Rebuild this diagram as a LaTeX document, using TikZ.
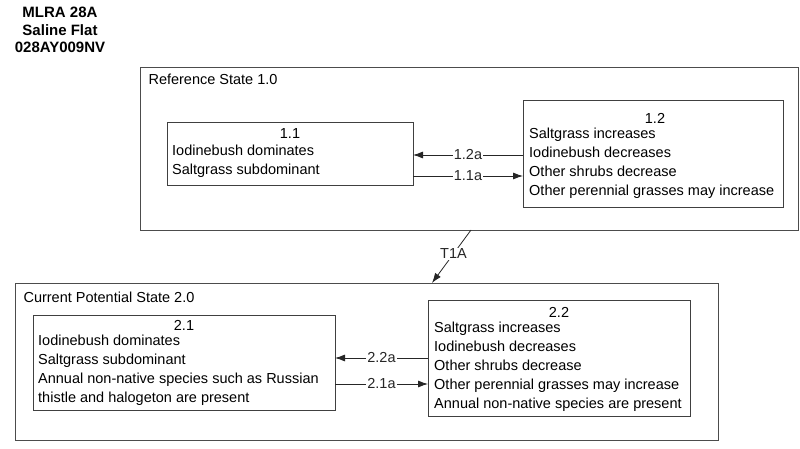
\documentclass[tikz,border=0pt]{standalone}
\usepackage{fontspec}
\setmainfont{Liberation Sans}
\usetikzlibrary{arrows.meta}
\begin{document}
\begin{tikzpicture}[x=1pt,y=-1pt,font=\fontsize{14.5}{19}\selectfont,
  statebox/.style={draw=black!70, line width=1pt},
  phasebox/.style={draw=black!75, line width=1pt},
  pathway/.style={black!85, line width=0.8pt, -{Latex[length=10pt,width=7pt]}},
  lbl/.style={fill=white, inner sep=1pt}]
\useasboundingbox (0,0) rectangle (800,449);
% title
\node[font=\fontsize{15}{17.5}\selectfont\bfseries, align=center] (title) at (60,30) {MLRA 28A\\Saline Flat\\028AY009NV};
% reference state
\draw[statebox] (140,68) rectangle (798,230);
\node[anchor=west] (ref) at (145,79) {Reference State 1.0};
\draw[phasebox] (167,123) rectangle (413,186);
\node (p11) at (290,134) {1.1};
\node[anchor=north west, align=left, inner sep=0pt] (t11) at (172,145) {Iodinebush dominates\\Saltgrass subdominant};
\draw[phasebox] (523,101) rectangle (783,208);
\node (p12) at (655,118) {1.2};
\node[anchor=north west, align=left, inner sep=0pt] (t12) at (529,128) {Saltgrass increases\\Iodinebush decreases\\Other shrubs decrease\\Other perennial grasses may increase};
\coordinate (a12s) at (523,155);
\coordinate (a12e) at (413,155);
\coordinate (a11s) at (413,176);
\coordinate (a11e) at (523,176);
\draw[pathway] (a12s) -- node[lbl] {1.2a} (a12e);
\draw[pathway] (a11s) -- node[lbl] {1.1a} (a11e);
% transition
\coordinate (t1s) at (471,230);
\coordinate (t1e) at (432,283);
\draw[pathway] (t1s) -- node[lbl, pos=0.45] {T1A} (t1e);
% current potential state
\draw[statebox] (15,283) rectangle (718,440);
\node[anchor=west] (cur) at (20,297) {Current Potential State 2.0};
\draw[phasebox] (33,315) rectangle (335,410);
\node (p21) at (184,325) {2.1};
\node[anchor=north west, align=left, inner sep=0pt] (t21) at (38,335) {Iodinebush dominates\\Saltgrass subdominant\\Annual non-native species such as Russian\\thistle and halogeton are present};
\draw[phasebox] (428,300) rectangle (690,416);
\node (p22) at (559,312) {2.2};
\node[anchor=north west, align=left, inner sep=0pt] (t22) at (434,322) {Saltgrass increases\\Iodinebush decreases\\Other shrubs decrease\\Other perennial grasses may increase\\Annual non-native species are present};
\coordinate (a22s) at (428,358);
\coordinate (a22e) at (335,358);
\coordinate (a21s) at (335,384);
\coordinate (a21e) at (428,384);
\draw[pathway] (a22s) -- node[lbl] {2.2a} (a22e);
\draw[pathway] (a21s) -- node[lbl] {2.1a} (a21e);
\end{tikzpicture}
\end{document}
